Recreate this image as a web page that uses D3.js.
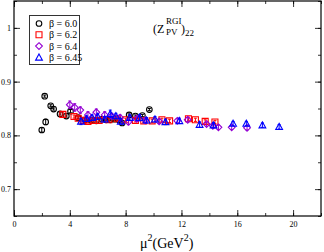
<!DOCTYPE html>
<html>
<head>
<meta charset="utf-8">
<title>Z_PV RGI</title>
<script src="https://d3js.org/d3.v7.min.js"></script>
<style>
  body { margin: 0; background: #fff; }
  svg text { font-family: "Liberation Serif", "DejaVu Serif", serif; }
</style>
</head>
<body>
<svg id="chart" width="324" height="252"></svg>
<script>
// beta = 6.0 (black circles)
var x60 = [1.99, 2.2, 2.27, 2.63, 2.84, 3.3, 3.75, 4.05, 4.6, 5.1, 5.5, 5.9, 6.3, 6.6, 6.9, 7.2, 7.5, 7.75, 8.25, 8.7, 9.2, 9.7];
var y60 = [0.810, 0.873, 0.825, 0.855, 0.849, 0.840, 0.836, 0.845, 0.833, 0.829, 0.828, 0.827, 0.830, 0.829, 0.829, 0.830, 0.829, 0.823, 0.838, 0.836, 0.837, 0.848];
var e60 = [0.004, 0.002, 0.005, 0.002, 0.002, 0.002, 0.002, 0.003, 0.002, 0.002, 0.002, 0.002, 0.002, 0.002, 0.002, 0.002, 0.002, 0.002, 0.002, 0.002, 0.002, 0.002];
// beta = 6.2 (red squares)
var x62 = [3.5, 4.3, 4.6, 4.95, 5.3, 5.7, 6.1, 6.8, 7.4, 8.0, 8.7, 9.3, 9.9, 10.6, 11.15, 12.5, 13.0, 13.7, 14.4];
var y62 = [0.839, 0.835, 0.832, 0.828, 0.826, 0.828, 0.828, 0.829, 0.831, 0.829, 0.828, 0.827, 0.827, 0.829, 0.827, 0.831, 0.829, 0.826, 0.825];
var e62 = [0.003, 0.003, 0.003, 0.003, 0.003, 0.003, 0.003, 0.003, 0.003, 0.003, 0.003, 0.003, 0.003, 0.003, 0.003, 0.003, 0.003, 0.003, 0.003];
// beta = 6.4 (violet diamonds)
var x64 = [4.0, 4.35, 4.75, 5.3, 5.9, 6.5, 7.0, 7.6, 8.2, 8.8, 9.4, 10.4, 11.7, 12.45, 13.8, 14.25, 14.65, 15.6, 16.7];
var y64 = [0.857, 0.852, 0.847, 0.838, 0.843, 0.838, 0.836, 0.833, 0.825, 0.831, 0.828, 0.826, 0.827, 0.829, 0.821, 0.818, 0.815, 0.815, 0.814];
var e64 = [0.007, 0.007, 0.006, 0.006, 0.006, 0.006, 0.005, 0.005, 0.005, 0.005, 0.004, 0.004, 0.004, 0.004, 0.004, 0.004, 0.004, 0.004, 0.004];
// beta = 6.45 (blue triangles)
var x645 = [4.8, 5.2, 5.6, 6.0, 6.5, 6.9, 7.3, 7.65, 8.3, 9.0, 9.5, 10.1, 10.85, 11.85, 13.3, 14.3, 15.7, 16.65, 17.8, 19.0];
var y645 = [0.826, 0.831, 0.833, 0.835, 0.830, 0.840, 0.836, 0.826, 0.833, 0.833, 0.828, 0.830, 0.825, 0.827, 0.820, 0.819, 0.822, 0.822, 0.819, 0.816];
var e645 = [0.006, 0.005, 0.005, 0.005, 0.005, 0.007, 0.005, 0.005, 0.005, 0.006, 0.005, 0.005, 0.005, 0.005, 0.005, 0.005, 0.004, 0.004, 0.004, 0.004];

var seriesNames = ["\u03b2 = 6.0", "\u03b2 = 6.2", "\u03b2 = 6.4", "\u03b2 = 6.45"];
var xTicks = [0, 4, 8, 12, 16, 20];
var yTicks = [0.7, 0.8, 0.9, 1];

var series = [
  {name: seriesNames[0], xs: x60, ys: y60, es: e60, color: "#000000", shape: "circle"},
  {name: seriesNames[1], xs: x62, ys: y62, es: e62, color: "#ff0000", shape: "square"},
  {name: seriesNames[2], xs: x64, ys: y64, es: e64, color: "#9400d3", shape: "diamond"},
  {name: seriesNames[3], xs: x645, ys: y645, es: e645, color: "#0000ff", shape: "triangle"}
];

var svg = d3.select("#chart");
var pLeft = 14, pRight = 321, pTop = 1, pBottom = 216;

var x = d3.scaleLinear().domain([0, 22]).range([pLeft, pRight]);
var y = d3.scaleLinear().domain([0.65, 1.05]).range([pBottom, pTop]);

// frame
svg.append("rect")
  .attr("x", pLeft).attr("y", pTop)
  .attr("width", pRight - pLeft).attr("height", pBottom - pTop)
  .attr("fill", "none").attr("stroke", "#000").attr("stroke-width", 1.2);

// axes with inward ticks
function styleAxis(g) {
  g.select(".domain").remove();
  g.selectAll("text").style("font-size", "8px");
}
var minorX = d3.range(0, 23, 2), minorY = d3.range(0.65, 1.051, 0.05);

svg.append("g").attr("transform", "translate(0," + pBottom + ")")
  .call(d3.axisBottom(x).tickValues(minorX).tickSize(-3).tickFormat(""))
  .call(styleAxis);
svg.append("g").attr("transform", "translate(0," + pBottom + ")")
  .call(d3.axisBottom(x).tickValues(xTicks).tickSize(-6).tickPadding(5).tickFormat(d3.format("d")))
  .call(styleAxis);
svg.append("g").attr("transform", "translate(0," + pTop + ")")
  .call(d3.axisTop(x).tickValues(minorX).tickSize(-3).tickFormat(""))
  .call(styleAxis);
svg.append("g").attr("transform", "translate(0," + pTop + ")")
  .call(d3.axisTop(x).tickValues(xTicks).tickSize(-6).tickFormat(""))
  .call(styleAxis);

svg.append("g").attr("transform", "translate(" + pLeft + ",0)")
  .call(d3.axisLeft(y).tickValues(minorY).tickSize(-3).tickFormat(""))
  .call(styleAxis);
svg.append("g").attr("transform", "translate(" + pLeft + ",0)")
  .call(d3.axisLeft(y).tickValues(yTicks).tickSize(-6).tickPadding(3).tickFormat(function(d) { return d === 1 ? "1" : d3.format(".1f")(d); }))
  .call(styleAxis);
svg.append("g").attr("transform", "translate(" + pRight + ",0)")
  .call(d3.axisRight(y).tickValues(minorY).tickSize(-3).tickFormat(""))
  .call(styleAxis);
svg.append("g").attr("transform", "translate(" + pRight + ",0)")
  .call(d3.axisRight(y).tickValues(yTicks).tickSize(-6).tickFormat(""))
  .call(styleAxis);

svg.selectAll(".tick line").attr("stroke-width", 0.8);

// marker drawing
function symbolPath(shape, s) {
  if (shape === "square") return "M" + (-s) + "," + (-s) + "h" + 2 * s + "v" + 2 * s + "h" + (-2 * s) + "Z";
  if (shape === "diamond") return "M0," + (-s) + "L" + s + ",0L0," + s + "L" + (-s) + ",0Z";
  return "M0," + (-s) + "L" + s + "," + (s * 0.8) + "L" + (-s) + "," + (s * 0.8) + "Z";
}
function drawMarker(g, shape, color, cx, cy) {
  if (shape === "circle") {
    g.append("circle").attr("cx", cx).attr("cy", cy).attr("r", 2.8)
      .attr("fill", "none").attr("stroke", color).attr("stroke-width", 1.1);
  } else {
    var s = shape === "square" ? 3 : 3.4;
    g.append("path").attr("transform", "translate(" + cx + "," + cy + ")")
      .attr("d", symbolPath(shape, s))
      .attr("fill", "none").attr("stroke", color).attr("stroke-width", 1.1);
  }
}

var plot = svg.append("g");
series.forEach(function(s) {
  var g = plot.append("g");
  s.xs.forEach(function(xv, i) {
    var px = x(xv), py = y(s.ys[i]);
    var hi = y(s.ys[i] + s.es[i]), lo = y(s.ys[i] - s.es[i]);
    g.append("line").attr("x1", px).attr("x2", px).attr("y1", hi).attr("y2", lo)
      .attr("stroke", s.color).attr("stroke-width", 1);
    g.append("line").attr("x1", px - 1.5).attr("x2", px + 1.5).attr("y1", hi).attr("y2", hi)
      .attr("stroke", s.color).attr("stroke-width", 1);
    g.append("line").attr("x1", px - 1.5).attr("x2", px + 1.5).attr("y1", lo).attr("y2", lo)
      .attr("stroke", s.color).attr("stroke-width", 1);
    drawMarker(g, s.shape, s.color, px, py);
  });
});

// legend
var lg = svg.append("g");
lg.append("rect").attr("x", 29.5).attr("y", 15.5).attr("width", 50).attr("height", 49)
  .attr("fill", "#fff").attr("stroke", "#333").attr("stroke-width", 1);
series.forEach(function(s, i) {
  var ly = 23.5 + i * 11.3;
  drawMarker(lg, s.shape, s.color, 39, ly);
  lg.append("text").attr("x", 49).attr("y", ly + 3.5)
    .style("font-size", "10px").text(s.name);
});

// title
var t = svg.append("text").attr("x", 153).attr("y", 33).style("font-size", "12px");
t.append("tspan").text("(Z");
t.append("tspan").attr("dy", -9).attr("x", 166).style("font-size", "9px").text("RGI");
t.append("tspan").attr("dy", 11).attr("x", 166).style("font-size", "9px").text("PV");
t.append("tspan").attr("dy", -2).attr("x", 181).text(")");
t.append("tspan").attr("dy", 3).style("font-size", "9px").text("22");

// x label
var xl = svg.append("text").attr("x", 140).attr("y", 248).style("font-size", "14px");
xl.append("tspan").text("\u03bc");
xl.append("tspan").attr("dy", -7).style("font-size", "10px").text("2");
xl.append("tspan").attr("dy", 7).text("(GeV");
xl.append("tspan").attr("dy", -7).style("font-size", "10px").text("2");
xl.append("tspan").attr("dy", 7).text(")");
</script>
</body>
</html>
